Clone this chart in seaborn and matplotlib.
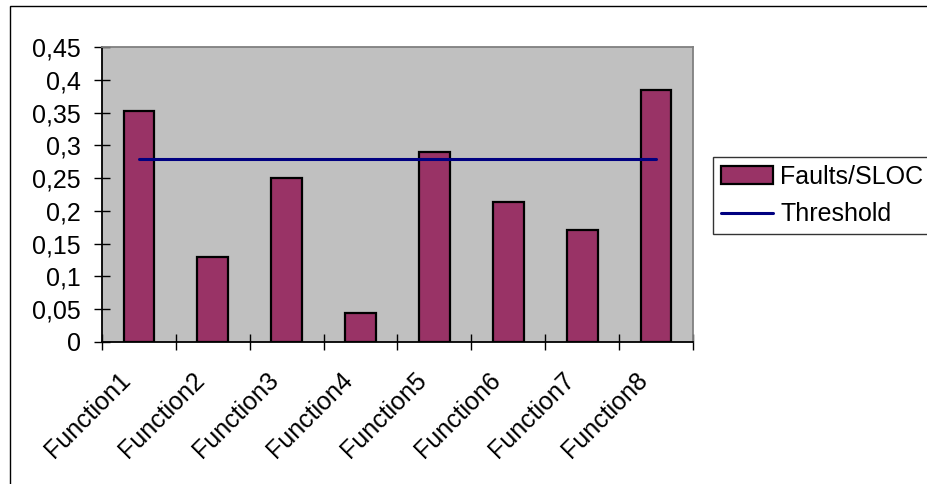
import numpy as np
import pandas as pd
import matplotlib
matplotlib.use("Agg")
import matplotlib.pyplot as plt
import matplotlib.transforms as mtransforms
from matplotlib.ticker import FuncFormatter, FixedLocator
from matplotlib.patches import Rectangle
import seaborn as sns

functions = ["Function1", "Function2", "Function3", "Function4",
             "Function5", "Function6", "Function7", "Function8"]
faults_per_sloc = [0.353, 0.130, 0.250, 0.044, 0.290, 0.214, 0.171, 0.384]
threshold = [0.28, 0.28, 0.28, 0.28, 0.28, 0.28, 0.28, 0.28]
yticks = [0, 0.05, 0.1, 0.15, 0.2, 0.25, 0.3, 0.35, 0.4, 0.45]

sns.set_style("white")
plt.rcParams["font.family"] = ["Liberation Sans", "DejaVu Sans"]
plt.rcParams["text.color"] = "black"
plt.rcParams["xtick.color"] = "black"
plt.rcParams["ytick.color"] = "black"
plt.rcParams["xtick.labelcolor"] = "black"
plt.rcParams["ytick.labelcolor"] = "black"

fig = plt.figure(figsize=(9.27, 4.84), dpi=100)
ax = fig.add_axes([101.7 / 927, 1 - 341.7 / 484, (693.3 - 101.7) / 927, (341.7 - 47.3) / 484])
ax.set_facecolor("#C0C0C0")

df = pd.DataFrame({"Function": functions, "Faults/SLOC": faults_per_sloc, "Threshold": threshold})

sns.barplot(data=df, x="Function", y="Faults/SLOC", color="#993366", saturation=1,
            width=0.41, edgecolor="black", linewidth=1.6, ax=ax, label="Faults/SLOC", zorder=2)
pos = np.arange(len(functions))
sns.lineplot(x=pos, y=df["Threshold"].values, color="#000080", linewidth=2.2, ax=ax,
             label="Threshold", zorder=3)

ax.set_xlim(-0.5, len(functions) - 0.5)
ax.set_ylim(0, 0.45)
ax.set_xlabel("")
ax.set_ylabel("")
ax.grid(False)

# y axis
ax.yaxis.set_major_locator(FixedLocator(yticks))
ax.yaxis.set_major_formatter(FuncFormatter(lambda v, p: "{:g}".format(round(v, 2)).replace(".", ",")))
ax.tick_params(axis="y", direction="inout", length=12, width=1, color="black",
               labelcolor="black", labelsize=18, pad=9, left=True)

# x axis: boundary ticks major, labels on minor at centers
ax.xaxis.set_major_locator(FixedLocator(np.arange(-0.5, len(functions), 1.0)))
ax.xaxis.set_major_formatter(FuncFormatter(lambda v, p: ""))
ax.set_xticks(pos, minor=True)
ax.set_xticklabels(functions, minor=True)
ax.tick_params(axis="x", which="major", direction="inout", length=12, width=1,
               color="black", bottom=True)
ax.tick_params(axis="x", which="minor", length=0, labelsize=18, pad=28, bottom=True,
               labelcolor="black")
offset = mtransforms.ScaledTranslation(-12 / 100, 4 / 100, fig.dpi_scale_trans)
for lab in ax.get_xticklabels(minor=True):
    lab.set_rotation(45)
    lab.set_ha("right")
    lab.set_va("center")
    lab.set_rotation_mode("anchor")
    lab.set_transform(lab.get_transform() + offset)

for side in ["left", "bottom"]:
    ax.spines[side].set_color("black")
    ax.spines[side].set_linewidth(1.3)
for side in ["top", "right"]:
    ax.spines[side].set_color("#808080")
    ax.spines[side].set_linewidth(1.3)
    ax.spines[side].set_visible(True)

if ax.get_legend():
    ax.get_legend().remove()
handles, labels = ax.get_legend_handles_labels()
order = [labels.index("Faults/SLOC"), labels.index("Threshold")]
handles = [handles[i] for i in order]
labels = [labels[i] for i in order]
leg = fig.legend(handles, labels, loc="upper left", bbox_to_anchor=(713 / 927, 1 - 157 / 484),
                 frameon=True, fancybox=False, fontsize=18, handlelength=2.08,
                 handletextpad=0.32, borderpad=0.3, labelspacing=0.55, borderaxespad=0)
leg.get_frame().set_edgecolor("black")
leg.get_frame().set_linewidth(1.0)

fig.patches.append(Rectangle((10 / 927, -0.1), 1.2, 1.1 - 6 / 484, transform=fig.transFigure,
                             fill=False, edgecolor="black", linewidth=1.0, zorder=0))

fig.savefig("out.png", dpi=100)
